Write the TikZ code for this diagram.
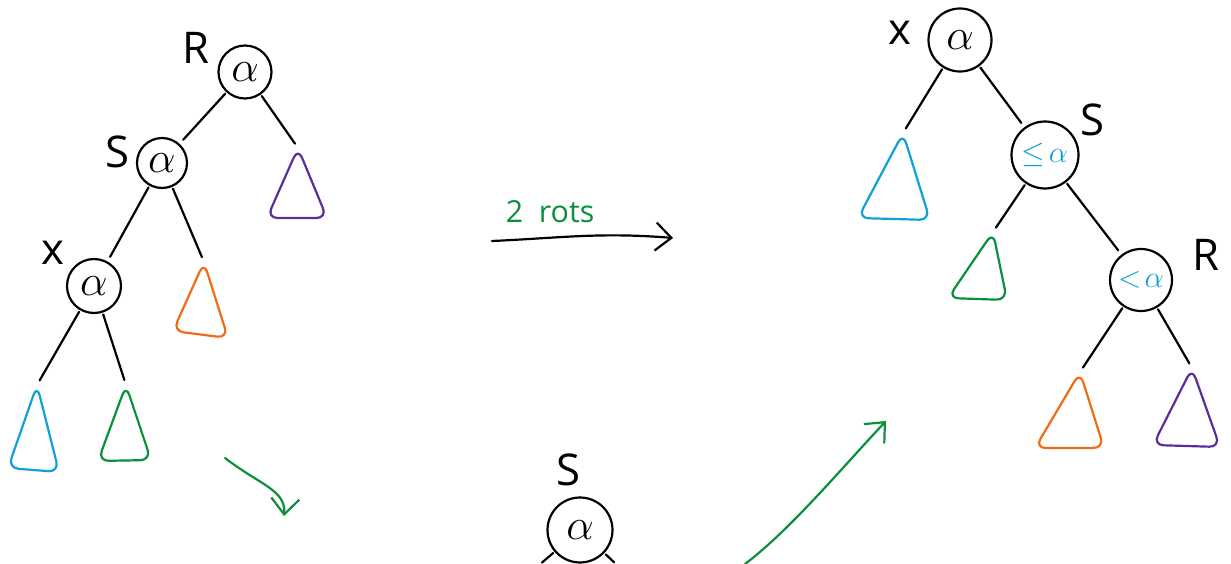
\documentclass[tikz,border=0pt]{standalone}
\usepackage{fontspec}
\setsansfont{Open Sans}
\usetikzlibrary{arrows.meta}
\definecolor{cblue}{HTML}{0FA0D8}
\definecolor{cgreen}{HTML}{0A8F3C}
\definecolor{corange}{HTML}{F26B12}
\definecolor{cpurple}{HTML}{5B2D9C}
\begin{document}
\begin{tikzpicture}[x=0.02cm,y=-0.02cm,line width=1.25pt,line cap=round,line join=round,
  nd/.style={draw,circle,inner sep=0pt,font=\Huge},
  lbl/.style={font=\Huge\sffamily},
  tri/.style={rounded corners=6pt},
  edge/.style={shorten >=3pt,shorten <=1pt},
  barb/.style={-{Straight Barb[length=9pt,width=16pt]}}]
\useasboundingbox (0,0) rectangle (1231,564);
% ---------- left tree ----------
\node[nd,minimum size=1.06cm] (R1) at (245,72) {$\alpha$};
\node[lbl] (lR1) at (196,48) {R};
\node[nd,minimum size=1.0cm] (S1) at (162,163) {$\alpha$};
\node[lbl] (lS1) at (117,152) {S};
\node[nd,minimum size=1.08cm] (X1) at (94,286) {$\alpha$};
\node[lbl] (lX1) at (53,253) {x};
\coordinate (tp1) at (298,148);
\coordinate (to1) at (204,262);
\coordinate (tb1) at (37,385);
\coordinate (tg1) at (126,385);
\draw[edge] (R1) -- (S1);
\draw[edge] (R1) -- (tp1);
\draw[edge] (S1) -- (X1);
\draw[edge] (S1) -- (to1);
\draw[edge] (X1) -- (tb1);
\draw[edge] (X1) -- (tg1);
\draw[cpurple,tri] (tp1) -- (267,218) -- (327,218) -- cycle;
\draw[corange,tri] (to1) -- (173,331) -- (228,338) -- cycle;
\draw[cblue,tri] (tb1) -- (8,468) -- (59,472) -- cycle;
\draw[cgreen,tri] (tg1) -- (98,461) -- (151,460) -- cycle;
% ---------- middle ----------
\coordinate (a1s) at (225,458);
\coordinate (a1e) at (284,516);
\draw[cgreen,barb] (a1s) .. controls (260,485) and (286,490) .. (a1e);
\coordinate (a2s) at (492,241);
\coordinate (a2e) at (673,238);
\draw[barb] (a2s) .. controls (560,238) and (600,232) .. (a2e);
\node[cgreen,font=\LARGE\sffamily] (rots) at (550,212) {2\ \ rots};
\node[nd,minimum size=1.3cm] (S2) at (580,530) {$\alpha$};
\node[lbl] (lS2) at (568,470) {S};
\coordinate (s2l) at (538,566);
\coordinate (s2r) at (618,566);
\draw[edge] (S2) -- (s2l);
\draw[edge] (S2) -- (s2r);
\coordinate (a3s) at (745,564);
\coordinate (a3e) at (886,421);
\draw[cgreen,barb] (a3s) .. controls (790,530) and (840,470) .. (a3e);
% ---------- right tree ----------
\node[nd,minimum size=1.26cm] (X3) at (960,40) {$\alpha$};
\node[lbl] (lX3) at (900,33) {x};
\node[nd,minimum size=1.34cm] (S3) at (1045,155) {\textcolor{cblue}{\LARGE$\leq\!\alpha$}};
\node[lbl] (lS3) at (1092,120) {S};
\node[nd,minimum size=1.24cm] (R3) at (1141,280) {\textcolor{cblue}{\LARGE$<\!\alpha$}};
\node[lbl] (lR3) at (1206,255) {R};
\coordinate (tb3) at (903,133);
\coordinate (tg3) at (993,232);
\coordinate (to3) at (1080,372);
\coordinate (tp3) at (1192,368);
\draw[edge] (X3) -- (tb3);
\draw[edge] (X3) -- (S3);
\draw[edge] (S3) -- (tg3);
\draw[edge] (S3) -- (R3);
\draw[edge] (R3) -- (to3);
\draw[edge] (R3) -- (tp3);
\draw[cblue,tri] (tb3) -- (858,218) -- (930,220) -- cycle;
\draw[cgreen,tri] (tg3) -- (948,298) -- (1007,300) -- cycle;
\draw[corange,tri] (to3) -- (1035,448) -- (1104,448) -- cycle;
\draw[cpurple,tri] (tp3) -- (1153,445) -- (1220,447) -- cycle;
\end{tikzpicture}
\end{document}
